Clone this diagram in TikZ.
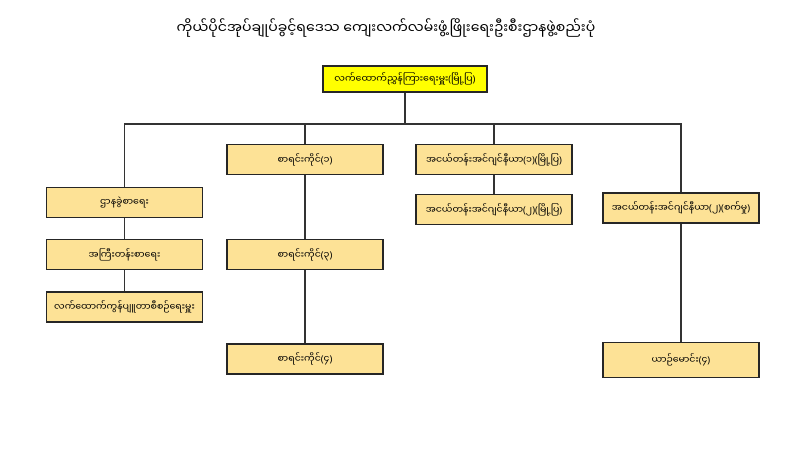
\documentclass[tikz,border=0pt]{standalone}
\usepackage{fontspec}
\newfontfamily\mmfont[Script=Myanmar]{Noto Sans Myanmar UI}
\newfontfamily\latinfont{Noto Sans}
\newcommand{\mmlp}{{\latinfont(}}
\newcommand{\mmrp}{{\latinfont)}}
\usepackage{tikz}
\usetikzlibrary{positioning}
\definecolor{boxfill}{RGB}{253,226,150}
\definecolor{topfill}{RGB}{255,255,0}

\begin{document}
\begin{tikzpicture}[
    x=0.025cm, y=-0.025cm,
    node distance=0.5cm,
    box/.style={rectangle, draw=black!85, line width=0.9pt, fill=boxfill, minimum width=3.9cm, minimum height=0.75cm, inner sep=2pt, font=\mmfont\fontsize{6.7}{8}\selectfont},
    topbox/.style={box, fill=topfill, minimum width=4.1cm, minimum height=0.65cm},
    line/.style={draw=black!80, line width=0.9pt}
]
\useasboundingbox (0,0) rectangle (800,450);
\node[font=\mmfont\fontsize{10}{12}\selectfont] (title) at (386,28) {ကိုယ်ပိုင်အုပ်ချုပ်ခွင့်ရဒေသ ကျေးလက်လမ်းဖွံ့ဖြိုးရေးဦးစီးဌာနဖွဲ့စည်းပုံ};
\node[topbox] (asstdir) at (405,79) {လက်ထောက်ညွှန်ကြားရေးမှူး\mmlp မြို့ပြ\mmrp};
\coordinate (bus) at (405,124);

\node[box] (clerk) at (124.5,202.5) {ဌာနခွဲစာရေး};
\node[box, below=0.525cm of clerk] (senior) {အကြီးတန်းစာရေး};
\node[box, below=0.525cm of senior] (prog) {လက်ထောက်ကွန်ပျူတာစီစဉ်ရေးမှူး};

\node[box] (acc1) at (305,159.5) {စာရင်းကိုင်\mmlp ၁\mmrp};
\node[box, below=1.6cm of acc1] (acc3) {စာရင်းကိုင်\mmlp ၃\mmrp};
\node[box, below=1.825cm of acc3] (acc4) {စာရင်းကိုင်\mmlp ၄\mmrp};

\node[box] (civil1) at (494,159.5) {အငယ်တန်းအင်ဂျင်နီယာ\mmlp ၁\mmrp\mmlp မြို့ပြ\mmrp};
\node[box, below=0.475cm of civil1] (civil2) {အငယ်တန်းအင်ဂျင်နီယာ\mmlp ၂\mmrp\mmlp မြို့ပြ\mmrp};

\node[box] (mech) at (681,208) {အငယ်တန်းအင်ဂျင်နီယာ\mmlp ၂\mmrp\mmlp စက်မှု\mmrp};
\node[box, below=2.95cm of mech, minimum height=0.875cm] (driver) {ယာဉ်မောင်း\mmlp ၄\mmrp};

\draw[line] (asstdir) -- (bus);
\draw[line] (bus) -| (clerk);
\draw[line] (bus) -| (acc1);
\draw[line] (bus) -| (civil1);
\draw[line] (bus) -| (mech);
\draw[line] (clerk) -- (senior);
\draw[line] (senior) -- (prog);
\draw[line] (acc1) -- (acc3);
\draw[line] (acc3) -- (acc4);
\draw[line] (civil1) -- (civil2);
\draw[line] (mech) -- (driver);
\end{tikzpicture}
\end{document}
